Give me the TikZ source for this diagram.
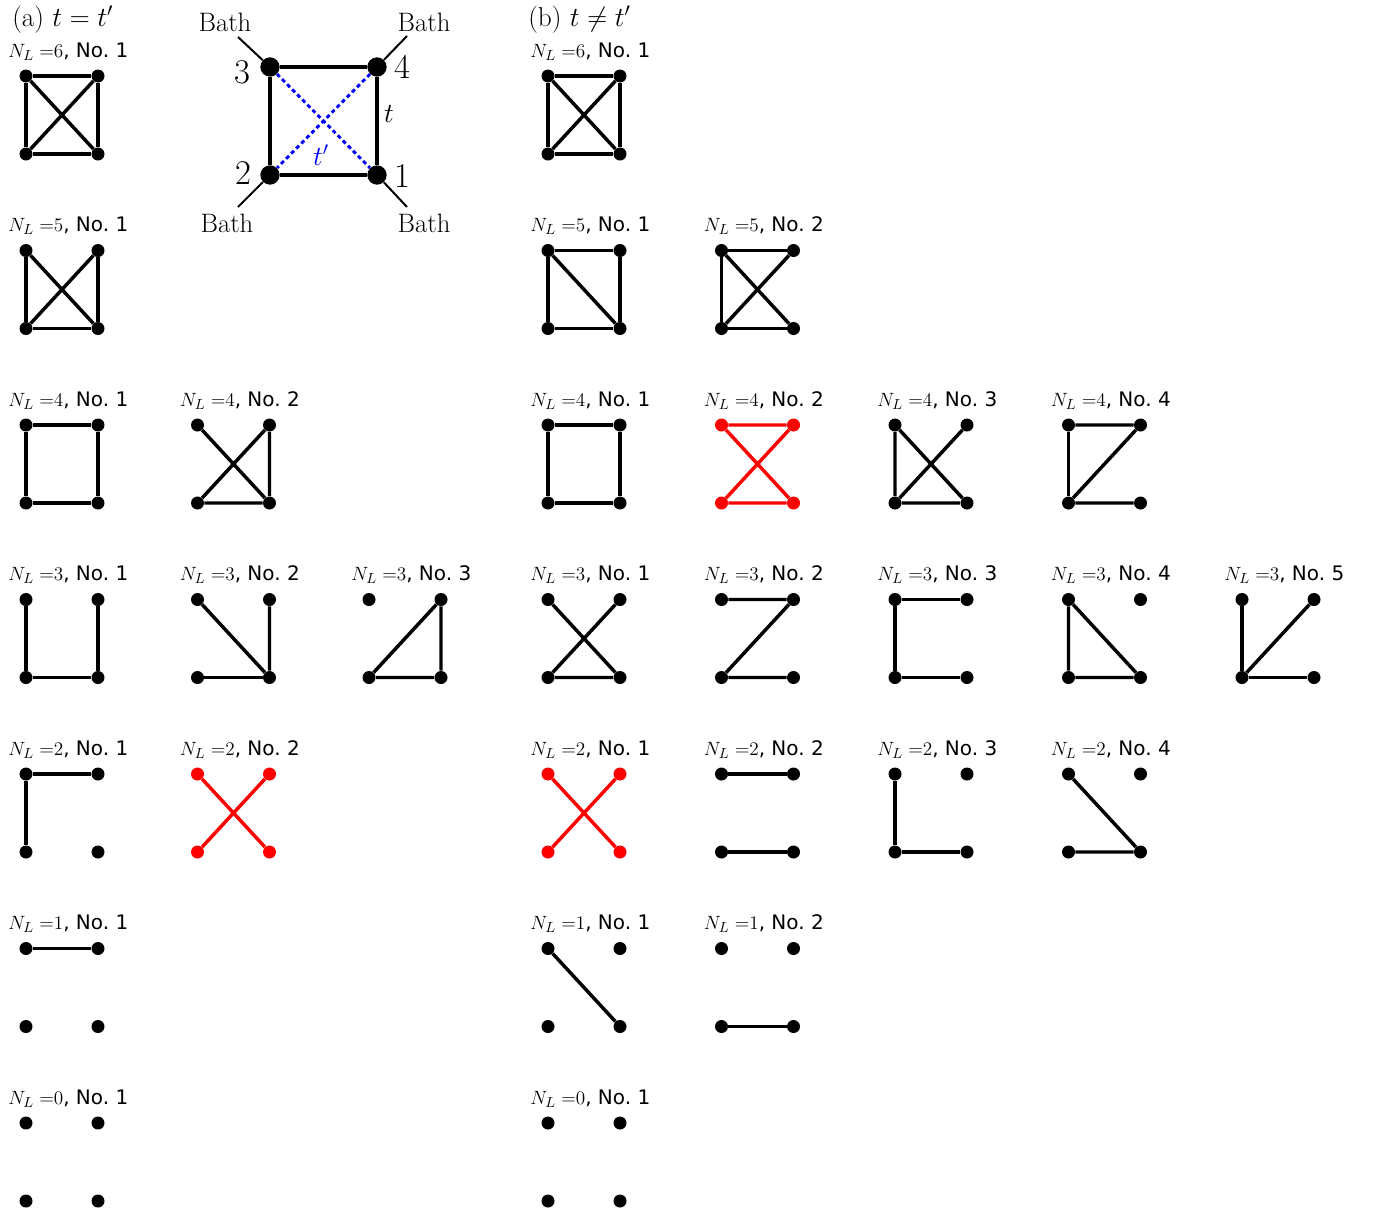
\documentclass[tikz,border=0pt]{standalone}
\usepackage{fontspec}
\setsansfont{DejaVu Sans}
\usetikzlibrary{positioning,calc}

% one plaquette: sites 1 (lower right), 2 (lower left), 3 (upper left), 4 (upper right)
\newcommand{\plaq}[6][black]{%
  \node[site, fill=#1] (#2-3) at (#3,#4) {};
  \node[site, fill=#1] (#2-4) at (#3+72,#4) {};
  \node[site, fill=#1] (#2-2) at (#3,#4+78) {};
  \node[site, fill=#1] (#2-1) at (#3+72,#4+78) {};
  \node[tag] (#2-t) at (#3-18,#4-19) {$N_L\;{=}#5$, No.~#6};
}

\begin{document}
\begin{tikzpicture}[
  x=0.75pt, y=-0.75pt,
  site/.style={circle, inner sep=0pt, minimum size=9.75pt},
  bond/.style={line width=2.6pt},
  tag/.style={anchor=base west, inner sep=0pt, font=\fontsize{15}{17}\selectfont\sffamily},
  big/.style={circle, fill, inner sep=0pt, minimum size=14.5pt},
  hop/.style={line width=3.4pt},
  diag/.style={blue, line width=2.2pt, dash pattern=on 3pt off 2.4pt},
  lead/.style={line width=1.5pt},
  bath/.style={inner sep=0pt, font=\fontsize{20}{22}\selectfont},
  num/.style={inner sep=0pt, font=\fontsize{26}{28}\selectfont},
  hlab/.style={inner sep=0pt, font=\fontsize{20}{22}\selectfont},
  title/.style={anchor=west, inner sep=0pt, font=\fontsize{20.5}{24}\selectfont},
]
\useasboundingbox (0,0) rectangle (1379,1214);

% panel titles
\node[title] (ta) at (12,20) {(a) $t=t'$};
\node[title] (tb) at (528,20) {(b) $t\neq t'$};

% the four-site cluster with its baths
\node[big] (s3) at (270,67) {};
\node[big] (s4) at (377,67) {};
\node[big] (s2) at (270,175) {};
\node[big] (s1) at (377,175) {};
\draw[diag] (s3) -- (s1);
\draw[diag] (s4) -- (s2);
\draw[hop] (s3) -- (s4) -- (s1) -- (s2) -- (s3);
\coordinate (e3) at (238,37);
\coordinate (e4) at (407,36);
\coordinate (e2) at (238,207);
\coordinate (e1) at (407,207);
\draw[lead] (s3) -- (e3);
\draw[lead] (s4) -- (e4);
\draw[lead] (s2) -- (e2);
\draw[lead] (s1) -- (e1);
\node[bath] (bath3) at (225,22) {Bath};
\node[bath] (bath4) at (424,22) {Bath};
\node[bath] (bath2) at (227,223) {Bath};
\node[bath] (bath1) at (424,223) {Bath};
\node[num] (n3) at (242,72) {3};
\node[num] (n4) at (402,67) {4};
\node[num] (n2) at (243,173) {2};
\node[num] (n1) at (402,176) {1};
\node[hlab] (lt) at (389,114) {$t$};
\node[hlab, blue] (ltp) at (321,155) {$t'$};

% (a) t = t'
\plaq{a61}{26}{76}{6}{1}
\draw[bond] (a61-3) -- (a61-4) -- (a61-1) -- (a61-2) -- (a61-3);
\draw[bond] (a61-3) -- (a61-1);
\draw[bond] (a61-4) -- (a61-2);

\plaq{a51}{26}{250.5}{5}{1}
\draw[bond] (a51-3) -- (a51-2) -- (a51-1) -- (a51-4);
\draw[bond] (a51-3) -- (a51-1);
\draw[bond] (a51-4) -- (a51-2);

\plaq{a41}{26}{425}{4}{1}
\draw[bond] (a41-3) -- (a41-4) -- (a41-1) -- (a41-2) -- (a41-3);
\plaq{a42}{197.5}{425}{4}{2}
\draw[bond] (a42-3) -- (a42-1) -- (a42-4) -- (a42-2) -- (a42-1);

\plaq{a31}{26}{599.5}{3}{1}
\draw[bond] (a31-3) -- (a31-2) -- (a31-1) -- (a31-4);
\plaq{a32}{197.5}{599.5}{3}{2}
\draw[bond] (a32-3) -- (a32-1) -- (a32-4);
\draw[bond] (a32-2) -- (a32-1);
\plaq{a33}{369}{599.5}{3}{3}
\draw[bond] (a33-4) -- (a33-2) -- (a33-1) -- (a33-4);

\plaq{a21}{26}{774}{2}{1}
\draw[bond] (a21-4) -- (a21-3) -- (a21-2);
\plaq[red]{a22}{197.5}{774}{2}{2}
\draw[bond, red] (a22-3) -- (a22-1);
\draw[bond, red] (a22-4) -- (a22-2);

\plaq{a11}{26}{948.5}{1}{1}
\draw[bond] (a11-3) -- (a11-4);

\plaq{a01}{26}{1123}{0}{1}

% (b) t != t'
\plaq{b61}{548}{76}{6}{1}
\draw[bond] (b61-3) -- (b61-4) -- (b61-1) -- (b61-2) -- (b61-3);
\draw[bond] (b61-3) -- (b61-1);
\draw[bond] (b61-4) -- (b61-2);

\plaq{b51}{548}{250.5}{5}{1}
\draw[bond] (b51-3) -- (b51-4) -- (b51-1) -- (b51-2) -- (b51-3);
\draw[bond] (b51-3) -- (b51-1);
\plaq{b52}{721.5}{250.5}{5}{2}
\draw[bond] (b52-4) -- (b52-3) -- (b52-2) -- (b52-1);
\draw[bond] (b52-3) -- (b52-1);
\draw[bond] (b52-4) -- (b52-2);

\plaq{b41}{548}{425}{4}{1}
\draw[bond] (b41-3) -- (b41-4) -- (b41-1) -- (b41-2) -- (b41-3);
\plaq[red]{b42}{721.5}{425}{4}{2}
\draw[bond, red] (b42-3) -- (b42-4) -- (b42-2) -- (b42-1) -- (b42-3);
\plaq{b43}{895}{425}{4}{3}
\draw[bond] (b43-3) -- (b43-2) -- (b43-1) -- (b43-3);
\draw[bond] (b43-4) -- (b43-2);
\plaq{b44}{1068.5}{425}{4}{4}
\draw[bond] (b44-3) -- (b44-4) -- (b44-2) -- (b44-1);
\draw[bond] (b44-3) -- (b44-2);

\plaq{b31}{548}{599.5}{3}{1}
\draw[bond] (b31-3) -- (b31-1) -- (b31-2) -- (b31-4);
\plaq{b32}{721.5}{599.5}{3}{2}
\draw[bond] (b32-3) -- (b32-4) -- (b32-2) -- (b32-1);
\plaq{b33}{895}{599.5}{3}{3}
\draw[bond] (b33-4) -- (b33-3) -- (b33-2) -- (b33-1);
\plaq{b34}{1068.5}{599.5}{3}{4}
\draw[bond] (b34-3) -- (b34-2) -- (b34-1) -- (b34-3);
\plaq{b35}{1242}{599.5}{3}{5}
\draw[bond] (b35-3) -- (b35-2) -- (b35-1);
\draw[bond] (b35-4) -- (b35-2);

\plaq[red]{b21}{548}{774}{2}{1}
\draw[bond, red] (b21-3) -- (b21-1);
\draw[bond, red] (b21-4) -- (b21-2);
\plaq{b22}{721.5}{774}{2}{2}
\draw[bond] (b22-3) -- (b22-4);
\draw[bond] (b22-2) -- (b22-1);
\plaq{b23}{895}{774}{2}{3}
\draw[bond] (b23-3) -- (b23-2) -- (b23-1);
\plaq{b24}{1068.5}{774}{2}{4}
\draw[bond] (b24-3) -- (b24-1) -- (b24-2);

\plaq{b11}{548}{948.5}{1}{1}
\draw[bond] (b11-3) -- (b11-1);
\plaq{b12}{721.5}{948.5}{1}{2}
\draw[bond] (b12-2) -- (b12-1);

\plaq{b01}{548}{1123}{0}{1}
\end{tikzpicture}
\end{document}
